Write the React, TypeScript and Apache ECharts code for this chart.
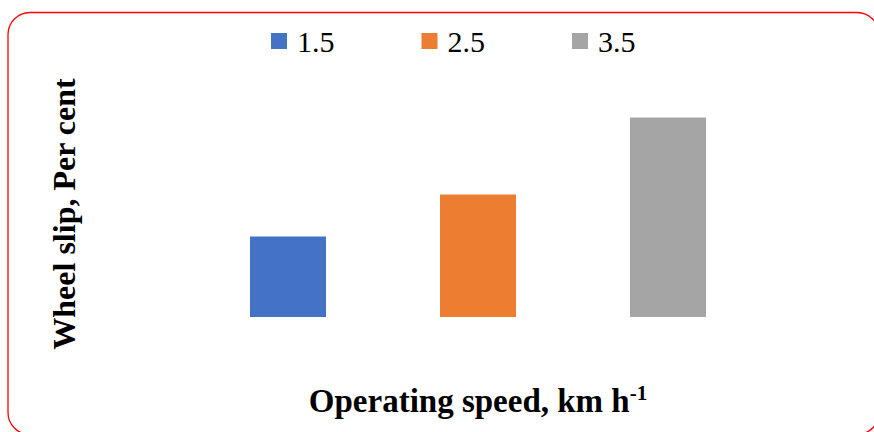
import React, { useEffect, useRef } from "react";
import * as echarts from "echarts";

const categories = ["Wheel slip"];
const seriesNames = ["1.5", "2.5", "3.5"];
const seriesValues = [4.03, 6.13, 9.98];
const seriesColors = ["#4472C4", "#ED7D31", "#A5A5A5"];
const xTitle = "Operating speed, km h";
const xTitleSup = "-1";
const yTitle = "Wheel slip, Per cent";

export default function App() {
  const ref = useRef<HTMLDivElement>(null);
  useEffect(() => {
    if (!ref.current) return;
    const chart = echarts.init(ref.current, null, { renderer: "svg" });
    const font = "'Liberation Serif', 'Times New Roman', serif";
    chart.setOption({
      animation: false,
      backgroundColor: "#ffffff",
      textStyle: { fontFamily: font },
      legend: {
        left: 271,
        top: 26,
        padding: 0,
        itemWidth: 16,
        itemHeight: 16,
        itemGap: 87,
        icon: "rect",
        textStyle: { fontSize: 30, color: "#000", fontFamily: font, padding: [0, 0, 0, 5] },
        data: seriesNames,
      },
      grid: { left: 150, right: 68, top: 97, bottom: 115, containLabel: false },
      xAxis: {
        type: "category",
        data: categories,
        axisLine: { show: false },
        axisTick: { show: false },
        axisLabel: { show: false },
        name: `{m|${xTitle}}{s|${xTitleSup}}`,
        nameLocation: "middle",
        nameGap: 65,
        nameTextStyle: {
          rich: {
            m: { fontSize: 33, fontWeight: "bold", color: "#000", fontFamily: font },
            s: { fontSize: 21, fontWeight: "bold", color: "#000", fontFamily: font, padding: [0, 0, 16, 0] },
          },
        },
      },
      yAxis: {
        type: "value",
        min: 0,
        max: 11,
        axisLine: { show: false },
        axisTick: { show: false },
        axisLabel: { show: false },
        splitLine: { show: false },
        name: yTitle,
        nameLocation: "middle",
        nameRotate: 90,
        nameGap: 70,
        nameTextStyle: { fontSize: 32, fontWeight: "bold", color: "#000", fontFamily: font, padding: [0, 14, 0, 0] },
      },
      series: seriesNames.map((n, i) => ({
        name: n,
        type: "bar",
        barWidth: 76,
        barGap: "150%",
        itemStyle: { color: seriesColors[i] },
        data: [seriesValues[i]],
      })),
      graphic: [
        {
          type: "rect",
          shape: { x: 8, y: 12.5, width: 871, height: 422, r: 22 },
          style: { fill: "none", stroke: "#FF0000", lineWidth: 1.3 },
          silent: true,
          z: 100,
        },
      ],
    });
    return () => chart.dispose();
  }, []);
  return (
    <div
      ref={ref}
      style={{ position: "fixed", left: 0, top: 0, width: 874, height: 432 }}
    />
  );
}
